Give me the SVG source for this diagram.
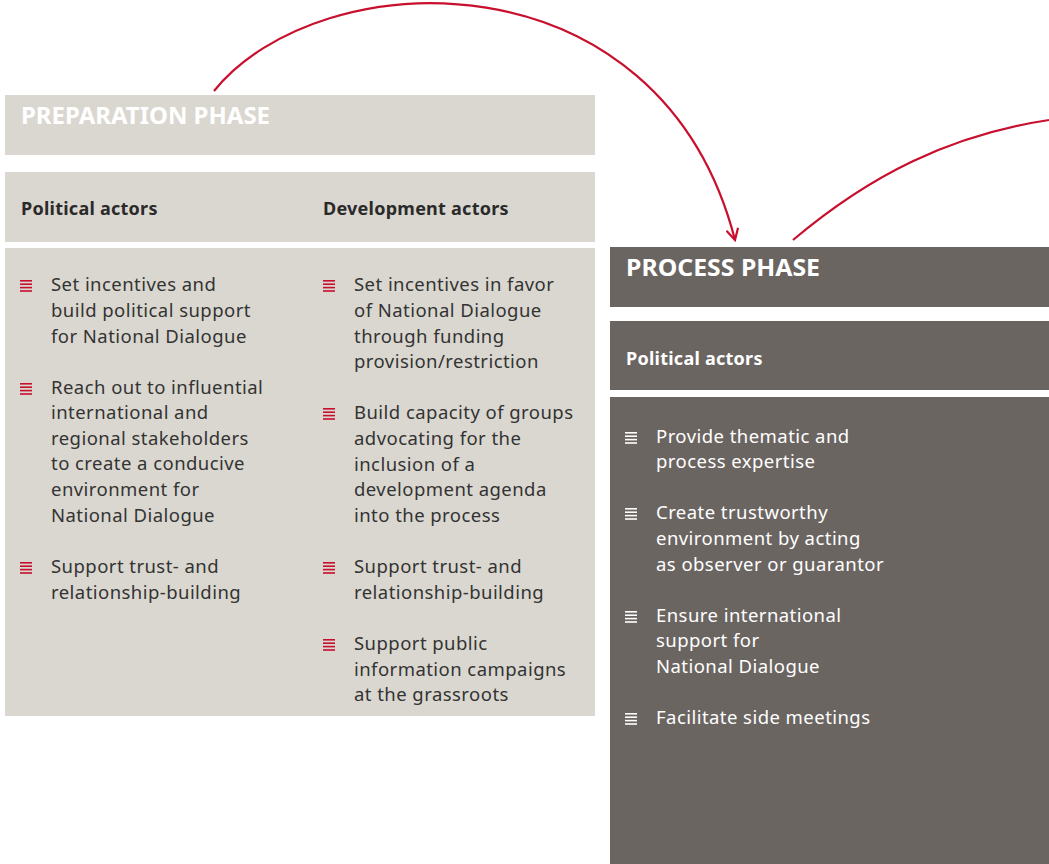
<svg xmlns="http://www.w3.org/2000/svg" width="1049" height="864" viewBox="0 0 1049 864">
<style>
.prep{fill:#dad7d0}
.proc{fill:#6b6562}
.phase{font-family:"Noto Sans",sans-serif;font-weight:bold;font-size:23px;fill:#ffffff}
.hd{font-family:"Noto Sans",sans-serif;font-weight:bold;font-size:18px;letter-spacing:0.25px}
.hdl{fill:#2a2a2a}
.hdd{fill:#ffffff}
.tx{font-family:"Noto Sans",sans-serif;font-size:18.5px;letter-spacing:0.45px}
.txl{fill:#333333}
.txd{fill:#ffffff}
.conn{fill:none;stroke:#c8102e;stroke-width:2.2}
</style>
<defs>
<g id="bul">
<rect x="0" y="0" width="12" height="1.6"/>
<rect x="0" y="3.4" width="12" height="1.6"/>
<rect x="0" y="6.8" width="12" height="1.6"/>
<rect x="0" y="10.2" width="12" height="1.6"/>
</g>
<marker id="ah" viewBox="0 0 14 14" refX="12" refY="7" markerWidth="14" markerHeight="14" markerUnits="userSpaceOnUse" orient="auto">
<path d="M1,1 L12,7 L1,13" fill="none" stroke="#c8102e" stroke-width="2.2"/>
</marker>
</defs>

<g id="preparation-phase">
<rect class="prep" x="5" y="95" width="590" height="60"/>
<text class="phase" x="21" y="124" textLength="249" lengthAdjust="spacingAndGlyphs">PREPARATION PHASE</text>
</g>

<g id="prep-actors-header">
<rect class="prep" x="5" y="172" width="590" height="70"/>
<text class="hd hdl" x="21" y="215">Political actors</text>
<text class="hd hdl" x="323" y="215">Development actors</text>
</g>

<g id="prep-body">
<rect class="prep" x="5" y="248" width="590" height="468"/>
<g fill="#c8102e">
<use href="#bul" x="20" y="280"/>
<use href="#bul" x="20" y="383"/>
<use href="#bul" x="20" y="562"/>
<use href="#bul" x="323" y="280"/>
<use href="#bul" x="323" y="408"/>
<use href="#bul" x="323" y="562"/>
<use href="#bul" x="323" y="639"/>
</g>
<g class="tx txl">
<text x="51" y="291">Set incentives and</text>
<text x="51" y="317">build political support</text>
<text x="51" y="343">for National Dialogue</text>
<text x="51" y="394">Reach out to influential</text>
<text x="51" y="419">international and</text>
<text x="51" y="445">regional stakeholders</text>
<text x="51" y="470">to create a conducive</text>
<text x="51" y="496">environment for</text>
<text x="51" y="522">National Dialogue</text>
<text x="51" y="573">Support trust- and</text>
<text x="51" y="599">relationship-building</text>
<text x="354" y="291">Set incentives in favor</text>
<text x="354" y="317">of National Dialogue</text>
<text x="354" y="343">through funding</text>
<text x="354" y="368">provision/restriction</text>
<text x="354" y="419">Build capacity of groups</text>
<text x="354" y="445">advocating for the</text>
<text x="354" y="471">inclusion of a</text>
<text x="354" y="496">development agenda</text>
<text x="354" y="522">into the process</text>
<text x="354" y="573">Support trust- and</text>
<text x="354" y="599">relationship-building</text>
<text x="354" y="650">Support public</text>
<text x="354" y="676">information campaigns</text>
<text x="354" y="701">at the grassroots</text>
</g>
</g>

<g id="process-phase">
<rect class="proc" x="610" y="247" width="439" height="60"/>
<text class="phase" x="626" y="276" textLength="194" lengthAdjust="spacingAndGlyphs">PROCESS PHASE</text>
</g>

<g id="proc-actors-header">
<rect class="proc" x="610" y="321" width="439" height="69"/>
<text class="hd hdd" x="626" y="365">Political actors</text>
</g>

<g id="proc-body">
<rect class="proc" x="610" y="397" width="439" height="467"/>
<g fill="#ffffff">
<use href="#bul" x="625" y="432"/>
<use href="#bul" x="625" y="508"/>
<use href="#bul" x="625" y="611"/>
<use href="#bul" x="625" y="713"/>
</g>
<g class="tx txd">
<text x="656" y="443">Provide thematic and</text>
<text x="656" y="468">process expertise</text>
<text x="656" y="519">Create trustworthy</text>
<text x="656" y="545">environment by acting</text>
<text x="656" y="571">as observer or guarantor</text>
<text x="656" y="622">Ensure international</text>
<text x="656" y="647">support for</text>
<text x="656" y="673">National Dialogue</text>
<text x="656" y="724">Facilitate side meetings</text>
</g>
</g>

<g id="connectors">
<path class="conn" d="M214,91 C320,-40 660,-50 735,240" marker-end="url(#ah)"/>
<path class="conn" d="M793,240 C870,175 950,135 1049,120"/>
</g>
</svg>
